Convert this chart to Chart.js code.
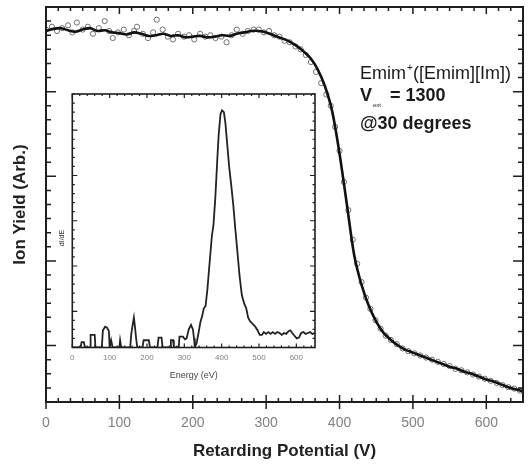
<!DOCTYPE html>
<html>
<head>
<meta charset="utf-8">
<script src="https://cdn.jsdelivr.net/npm/chart.js"></script>
<style>
  body { margin: 0; background: #fff; }
  #wrap { position: relative; width: 528px; height: 466px; }
  #main { position: absolute; left: 0; top: 0; }
  #inset { position: absolute; left: 50px; top: 88px; }
</style>
</head>
<body>
<div id="wrap">
  <canvas id="main" width="528" height="466"></canvas>
  <canvas id="inset" width="280" height="300"></canvas>
</div>
<script>
// main plot: fitted retarding curve (V, arb.)
const fitV = [0,10,20,30,40,50,60,70,80,90,100,110,120,130,140,150,160,170,180,190,200,210,220,230,240,250,260,270,280,290,300,310,320,330,340,350,360,370,380,390,400,410,420,430,440,450,460,470,480,490,500,510,520,530,540,550,560,570,580,590,600,610,620,630,640,650];
const fitYield = [22.3,22.45,22.5,22.35,22.25,22.4,22.5,22.3,22.35,22.2,22.15,22.05,22.2,22.1,21.95,22.0,22.1,21.95,22.0,21.85,21.9,21.95,21.85,21.9,22.0,21.95,22.1,22.2,22.3,22.3,22.2,22.0,21.8,21.6,21.3,20.9,20.4,19.6,18.4,16.6,13.6,10.0,6.4,4.3,2.8,1.7,0.9,0.4,0.0,-0.3,-0.5,-0.7,-0.9,-1.1,-1.3,-1.5,-1.65,-1.85,-2.0,-2.2,-2.4,-2.55,-2.75,-2.95,-3.1,-3.25];

// main plot: measured points
const ptV = [0,8,15,22,30,36,42,50,57,64,72,80,86,91,98,106,113,120,124,132,139,146,151,159,166,173,180,188,195,202,210,217,224,231,239,246,253,260,268,275,283,290,297,304,311,318,325,332,340,347,354,361,368,375,382,388,394,400,406,412,418,424,430,436,442,449,456,463,470,478,486,494,502,510,518,526,534,542,550,558,566,574,582,590,598,606,614,622,630,638,646];
const ptYield = [22.4,22.6,22.3,22.5,22.7,22.2,22.9,22.4,22.6,22.1,22.5,23.0,22.3,21.8,22.2,22.4,22.0,22.3,22.6,22.1,21.8,22.2,23.1,22.4,21.9,21.7,22.1,21.9,22.0,21.7,22.1,21.9,22.0,21.8,21.9,21.5,22.0,22.4,22.1,22.3,22.4,22.4,22.2,22.3,22.0,21.9,21.6,21.5,21.2,21.0,20.6,20.1,19.4,18.6,17.8,17.0,15.5,13.8,11.6,9.6,7.5,5.8,4.5,3.4,2.6,1.8,1.2,0.7,0.4,0.1,-0.2,-0.4,-0.55,-0.7,-0.85,-1.0,-1.15,-1.3,-1.45,-1.65,-1.75,-1.9,-2.05,-2.2,-2.35,-2.5,-2.65,-2.8,-2.95,-3.05,-3.2];

// inset: dI/dE spectrum (eV, arb.)
const specE = [0,22,25,31,34,48,49,60,62,79,82,88,93,98,100,104,108,126,128,131,155,158,162,165,168,171,174,188,191,205,208,228,231,239,242,262,264,270,272,285,287,296,302,306,312,318,323,326,328,333,338,343,348,352,357,362,368,374,378,383,388,392,397,401,406,410,414,420,426,431,437,443,448,454,460,466,471,476,483,490,496,502,508,513,519,525,531,537,543,549,555,561,567,573,579,584,589,595,601,607,613,619,625,631,637,643,650];
const specCounts = [0,0,0.6,0.6,0,0,1.4,1.4,0,0,1.9,2.3,2.2,1.8,0,0.8,0,0,0.8,0,0,1.5,2.6,3.3,2.2,1.0,0,0,0.8,0.8,0,0,1.1,1.1,0,0,0.8,0.8,0,0,1.2,1.2,0.9,1.0,2.0,2.5,2.0,1.0,0,0.5,1.6,2.8,3.5,4.3,4.6,6.5,9.5,12.4,13.5,16.5,20.5,23.5,25.8,26.2,26.0,24.8,22.9,20.0,17.8,15.8,12.9,10.2,7.9,5.8,4.9,4.3,3.3,2.9,2.6,2.3,1.9,1.4,1.4,1.7,1.5,1.7,1.5,1.7,1.5,1.7,1.6,1.4,1.6,1.5,1.8,1.9,1.6,1.3,1.0,1.1,1.6,1.7,1.5,1.6,1.7,1.5,1.6];

const FONT = '"Liberation Sans", Arial, sans-serif';

// inward tick marks + box frame
function frameTicks(cfg) {
  return {
    id: 'frameTicks',
    afterDatasetsDraw(chart) {
      const { ctx, chartArea: a, scales } = chart;
      const x = scales.x, y = scales.y;
      ctx.save();
      ctx.strokeStyle = '#1e1e1e';
      ctx.lineWidth = cfg.tickWidth;
      ctx.beginPath();
      cfg.xTicks.forEach(t => {
        const px = x.getPixelForValue(t.v);
        const L = t.major ? cfg.xMajor : cfg.xMinor;
        ctx.moveTo(px, a.bottom + (t.major ? cfg.xOut : 0)); ctx.lineTo(px, a.bottom - L);
        ctx.moveTo(px, a.top); ctx.lineTo(px, a.top + L);
      });
      cfg.yTicks.forEach(t => {
        const py = y.getPixelForValue(t.v);
        const L = t.major ? cfg.yMajor : cfg.yMinor;
        ctx.moveTo(a.left, py); ctx.lineTo(a.left + L, py);
        ctx.moveTo(a.right, py); ctx.lineTo(a.right - L, py);
      });
      ctx.stroke();
      ctx.lineWidth = cfg.frameWidth;
      ctx.strokeRect(a.left, a.top, a.right - a.left, a.bottom - a.top);
      ctx.restore();
    }
  };
}

const mainXTicks = [];
for (let k = 0; k <= 39; k++) mainXTicks.push({ v: k * 100 / 6, major: k % 6 === 0 });
const mainYTicks = [];
for (let v = -4; v <= 24; v++) mainYTicks.push({ v, major: v % 6 === 0 });

const insetXTicks = [];
for (let v = 0; v <= 640; v += 20) insetXTicks.push({ v, major: v % 100 === 0 });
const insetYTicks = [];
for (let v = 0; v <= 28; v++) insetYTicks.push({ v, major: (v - 4) % 5 === 0 && v >= 4 });

const annotation = {
  id: 'annotation',
  afterDraw(chart) {
    const ctx = chart.ctx;
    ctx.save();
    ctx.fillStyle = '#1a1a1a';
    ctx.textBaseline = 'alphabetic';
    ctx.font = '18px ' + FONT;
    let x0 = 360;
    ctx.fillText('Emim', x0, 79);
    let w = ctx.measureText('Emim').width;
    ctx.font = '10px ' + FONT;
    ctx.fillText('+', x0 + w + 1, 71);
    ctx.font = '18px ' + FONT;
    ctx.fillText('([Emim][Im])', x0 + w + 7, 79);
    ctx.font = 'bold 18px ' + FONT;
    ctx.fillText('V', x0, 101);
    ctx.font = '6px ' + FONT;
    ctx.fillText('ext', 373, 107);
    ctx.font = 'bold 18px ' + FONT;
    ctx.fillText('= 1300', 390, 101);
    ctx.fillText('@30 degrees', x0, 129);
    ctx.restore();
  }
};

new Chart(document.getElementById('main'), {
  type: 'scatter',
  data: {
    datasets: [
      {
        data: fitV.map((v, i) => ({ x: v, y: fitYield[i] })),
        showLine: true,
        borderColor: '#111',
        borderWidth: 2.6,
        pointRadius: 0,
        tension: 0.3
      },
      {
        data: ptV.map((v, i) => ({ x: v, y: ptYield[i] })),
        pointRadius: 2.6,
        pointBorderColor: '#707070',
        pointBackgroundColor: 'rgba(0,0,0,0)',
        pointBorderWidth: 1
      }
    ]
  },
  options: {
    responsive: false,
    animation: false,
    devicePixelRatio: 1,
    layout: { padding: { top: 7, right: 4, left: 0, bottom: 0 } },
    plugins: { legend: { display: false }, tooltip: { enabled: false } },
    scales: {
      x: {
        type: 'linear', min: 0, max: 650,
        grid: { display: false, drawTicks: false },
        border: { display: false },
        ticks: { stepSize: 100, includeBounds: false, color: '#808080', padding: 13, font: { family: FONT, size: 14 } },
        title: { display: true, text: 'Retarding Potential (V)', color: '#222', font: { family: FONT, size: 17, weight: 'bold' }, padding: { top: 0, bottom: 4 } },
        afterFit(s) { s.height = 64; }
      },
      y: {
        type: 'linear', min: -4, max: 24,
        grid: { display: false, drawTicks: false },
        border: { display: false },
        ticks: { display: false },
        title: { display: true, text: 'Ion Yield (Arb.)', color: '#222', font: { family: FONT, size: 17, weight: 'bold' }, padding: { top: 10, bottom: 0 } },
        afterFit(s) { s.width = 46; }
      }
    }
  },
  plugins: [
    frameTicks({ xTicks: mainXTicks, yTicks: mainYTicks, xMajor: 7, xMinor: 4, xOut: 7, yMajor: 10, yMinor: 5, tickWidth: 1.5, frameWidth: 2 }),
    annotation
  ]
});

const insetLabel = {
  id: 'insetLabel',
  afterDraw(chart) {
    const ctx = chart.ctx;
    ctx.save();
    ctx.fillStyle = '#333';
    ctx.font = '7px ' + FONT;
    ctx.translate(12, 150);
    ctx.rotate(-Math.PI / 2);
    ctx.textAlign = 'center';
    ctx.textBaseline = 'middle';
    ctx.fillText('dI/dE', 0, 0);
    ctx.restore();
  }
};

new Chart(document.getElementById('inset'), {
  type: 'scatter',
  data: {
    datasets: [{
      data: specE.map((e, i) => ({ x: e, y: specCounts[i] })),
      showLine: true,
      borderColor: '#222',
      borderWidth: 1.8,
      pointRadius: 0,
      tension: 0
    }]
  },
  options: {
    responsive: false,
    animation: false,
    devicePixelRatio: 1,
    layout: { padding: { top: 6, right: 15, left: 0, bottom: 0 } },
    plugins: { legend: { display: false }, tooltip: { enabled: false } },
    scales: {
      x: {
        type: 'linear', min: 0, max: 650,
        grid: { display: false, drawTicks: false },
        border: { display: false },
        ticks: { stepSize: 100, includeBounds: false, color: '#808080', padding: 5, font: { family: FONT, size: 8 } },
        title: { display: true, text: 'Energy (eV)', color: '#444', font: { family: FONT, size: 9 }, padding: { top: 0, bottom: 7 } },
        afterFit(s) { s.height = 40.5; }
      },
      y: {
        type: 'linear', min: 0, max: 28,
        grid: { display: false, drawTicks: false },
        border: { display: false },
        ticks: { display: false },
        afterFit(s) { s.width = 22.3; }
      }
    }
  },
  plugins: [
    frameTicks({ xTicks: insetXTicks, yTicks: insetYTicks, xMajor: 4, xMinor: 2, xOut: 0, yMajor: 5, yMinor: 2.5, tickWidth: 1.2, frameWidth: 1.6 }),
    insetLabel
  ]
});
</script>
</body>
</html>
